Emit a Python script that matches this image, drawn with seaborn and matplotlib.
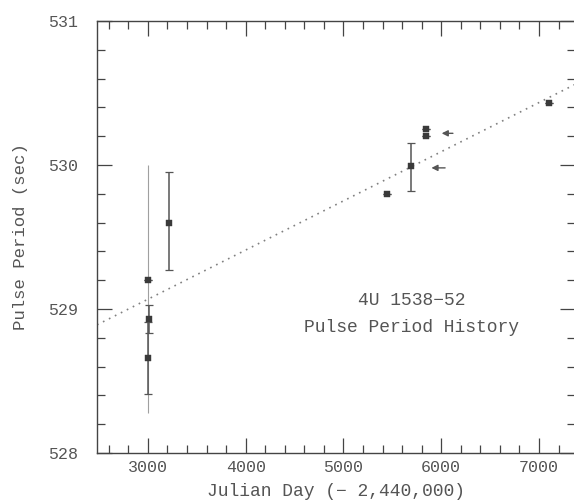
import numpy as np
import pandas as pd
import matplotlib
matplotlib.use("Agg")
import matplotlib.pyplot as plt
from matplotlib.ticker import MultipleLocator
import seaborn as sns

# ---- data ----
julian_day = [3000, 3010, 3000, 3215, 5441, 5687, 5841, 5841, 7103]
period     = [529.20, 528.93, 528.66, 529.60, 529.80, 529.99, 530.20, 530.25, 530.43]
err_low    = [0.0, 0.10, 0.25, 0.33, 0.0, 0.17, 0.0, 0.0, 0.0]
err_high   = [0.0, 0.10, 0.25, 0.35, 0.0, 0.16, 0.0, 0.0, 0.0]

# wide, faint error bar at JD 3000 (no marker)
wide_x = [3000]
wide_y = [529.14]
wide_err = [0.86]

# arrows flag these points (tip, tail in Julian day)
arrow_tip_x  = [5900, 6005]
arrow_tail_x = [6040, 6120]
arrow_y      = [529.98, 530.22]

# linear trend line endpoints
trend_x = [2480, 7370]
trend_y = [528.89, 530.56]

x_ticks = [3000, 4000, 5000, 6000, 7000]
y_ticks = [528, 529, 530, 531]

title_lines = ["4U 1538\u221252", "Pulse Period History"]

# ---- style ----
sns.set_style("ticks")
plt.rcParams['font.family'] = ['Liberation Mono', 'DejaVu Sans Mono']
ink = "#3a3a3a"
txt = "#555555"

fig = plt.figure(figsize=(5.74, 5.0), dpi=100)
ax = fig.add_axes([97/574, 47/500, 1 - 97/574 + 0.002, (453-21)/500])

df = pd.DataFrame({"day": julian_day, "period": period})
tdf = pd.DataFrame({"day": trend_x, "period": trend_y})

sns.lineplot(data=tdf, x="day", y="period", ax=ax, color="#808080",
             linestyle=(0, (1, 3)), linewidth=1.2)

ax.errorbar(wide_x, wide_y, yerr=wide_err, fmt="none", ecolor="#a0a0a0",
            elinewidth=0.8, capsize=0)
ax.errorbar(julian_day, period, yerr=[err_low, err_high], fmt="none",
            ecolor="#555555", elinewidth=1.1, capsize=3, capthick=0.9)

sns.scatterplot(data=df, x="day", y="period", ax=ax, marker="s", s=18,
                color=ink, edgecolor=ink, linewidth=0.3, zorder=5)

for xt, xs, ya in zip(arrow_tip_x, arrow_tail_x, arrow_y):
    ax.annotate("", xy=(xt, ya), xytext=(xs, ya),
                arrowprops=dict(arrowstyle="-|>", color="#555555", lw=1.0,
                                mutation_scale=9, shrinkA=0, shrinkB=0))

ax.text(5700, 529.06, title_lines[0], ha="center", va="center",
        fontsize=13, color=txt)
ax.text(5700, 528.87, title_lines[1], ha="center", va="center",
        fontsize=13, color=txt)

ax.set_xlim(2480, 7370)
ax.set_ylim(528, 531)
ax.set_xticks(x_ticks)
ax.set_yticks(y_ticks)
ax.xaxis.set_minor_locator(MultipleLocator(200))
ax.yaxis.set_minor_locator(MultipleLocator(0.2))
ax.tick_params(which="both", direction="in", top=True, right=True,
               colors="#444444", labelcolor=txt, labelsize=12, width=0.9)
ax.tick_params(which="major", length=11)
ax.tick_params(which="minor", length=6)
ax.tick_params(axis="y", pad=14)
ax.tick_params(axis="x", pad=5)
for sp in ax.spines.values():
    sp.set_visible(True)
    sp.set_color("#444444")
    sp.set_linewidth(1.0)

ax.set_xlabel("Julian Day (\u2212 2,440,000)", fontsize=13, color=txt)
ax.xaxis.label.set_va("center")
ax.xaxis.set_label_coords(0.5, (453 - 491) / 432)
ax.set_ylabel("Pulse Period (sec)", fontsize=12.5, color=txt, labelpad=14)

fig.savefig("out.png", dpi=100)
